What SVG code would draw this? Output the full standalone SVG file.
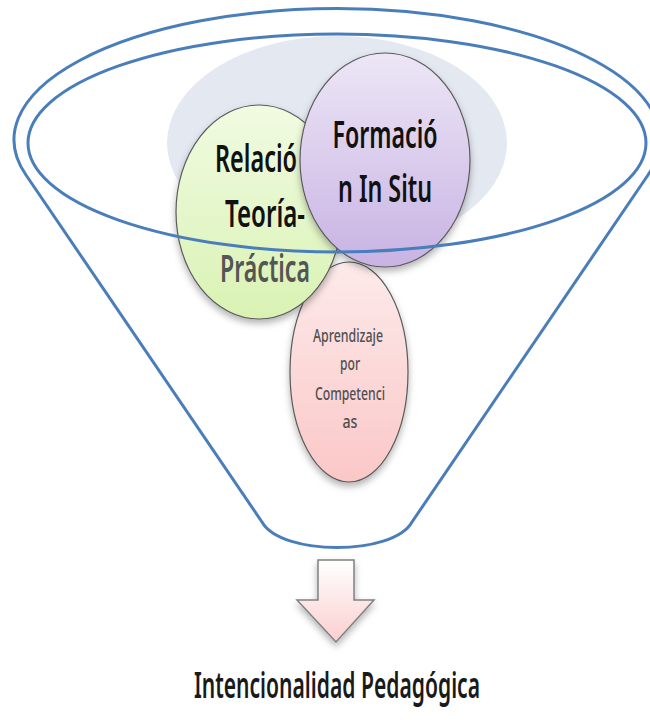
<svg xmlns="http://www.w3.org/2000/svg" width="650" height="721" viewBox="0 0 650 721">
<defs>
<linearGradient id="gGreen" x1="0" y1="0" x2="0" y2="1"><stop offset="0" stop-color="#f1fbe2"/><stop offset="1" stop-color="#d9f2b3"/></linearGradient>
<linearGradient id="gPurple" x1="0" y1="0" x2="0" y2="1"><stop offset="0" stop-color="#ede6f6"/><stop offset="1" stop-color="#c8b3e3"/></linearGradient>
<linearGradient id="gPink" x1="0" y1="0" x2="0" y2="1"><stop offset="0" stop-color="#fdeaea"/><stop offset="1" stop-color="#fbc7c7"/></linearGradient>
<linearGradient id="gArrow" x1="0" y1="0" x2="0" y2="1"><stop offset="0" stop-color="#ffffff"/><stop offset="1" stop-color="#fbcfcf"/></linearGradient>
<filter id="shadow" x="-20%" y="-20%" width="140%" height="150%"><feDropShadow dx="0" dy="4" stdDeviation="3.5" flood-color="#000" flood-opacity="0.3"/></filter>
</defs>
<style>
.node{stroke:#5a5a5a;stroke-width:1.2}
.rim{fill:none;stroke:#4a7ebb;stroke-width:3}
.big{font-family:"Noto Sans","Liberation Sans",sans-serif;font-size:38px;font-weight:600;text-anchor:middle;fill:#111}
.small{font-family:"Noto Sans","Liberation Sans",sans-serif;font-size:18px;font-weight:500;text-anchor:middle;fill:#505050}
.label{font-family:"Noto Sans","Liberation Sans",sans-serif;font-size:36px;font-weight:600;text-anchor:middle;fill:#1a1a1a}
</style>
<g id="background">
<ellipse cx="337" cy="143" rx="170" ry="107" fill="#e3e8f1"/>
</g>
<g id="node-aprendizaje">
<ellipse class="node" cx="349" cy="372" rx="59" ry="110" fill="url(#gPink)" filter="url(#shadow)"/>
<text class="small" x="348" y="342" textLength="70" lengthAdjust="spacingAndGlyphs">Aprendizaje</text>
<text class="small" x="350" y="370" textLength="20" lengthAdjust="spacingAndGlyphs">por</text>
<text class="small" x="350" y="400" textLength="70" lengthAdjust="spacingAndGlyphs">Competenci</text>
<text class="small" x="350" y="428" textLength="15" lengthAdjust="spacingAndGlyphs">as</text>
</g>
<g id="node-relacion">
<ellipse class="node" cx="259" cy="212" rx="83" ry="107" fill="url(#gGreen)" filter="url(#shadow)"/>
<text class="big" x="256" y="172" textLength="82" lengthAdjust="spacingAndGlyphs">Relació</text>
<text class="big" x="265" y="227" textLength="80" lengthAdjust="spacingAndGlyphs">Teoría-</text>
<text class="big" x="265" y="282" textLength="90" lengthAdjust="spacingAndGlyphs" style="fill:#555">Práctica</text>
</g>
<g id="node-formacion">
<ellipse class="node" cx="385" cy="160" rx="85" ry="107" fill="url(#gPurple)" filter="url(#shadow)"/>
<text class="big" x="385" y="148" textLength="105" lengthAdjust="spacingAndGlyphs">Formació</text>
<text class="big" x="385" y="202" textLength="94" lengthAdjust="spacingAndGlyphs">n In Situ</text>
</g>
<g id="funnel">
<path class="rim" d="M 26 175 A 323 131 0 1 1 648 175 L 412 522 C 393 556, 281 556, 262 522 Z"/>
<ellipse class="rim" cx="337" cy="143" rx="309" ry="109"/>
</g>
<g id="connectors">
<path d="M 318 560 L 354 560 L 354 600 L 374 600 L 336 642 L 297 600 L 318 600 Z" fill="url(#gArrow)" stroke="#808080" stroke-width="1.5" stroke-linejoin="miter" filter="url(#shadow)"/>
</g>
<g id="label">
<text class="label" transform="scale(0.8 1)" x="421.25" y="698" textLength="357.5" lengthAdjust="spacingAndGlyphs">Intencionalidad Pedagógica</text>
</g>
</svg>
